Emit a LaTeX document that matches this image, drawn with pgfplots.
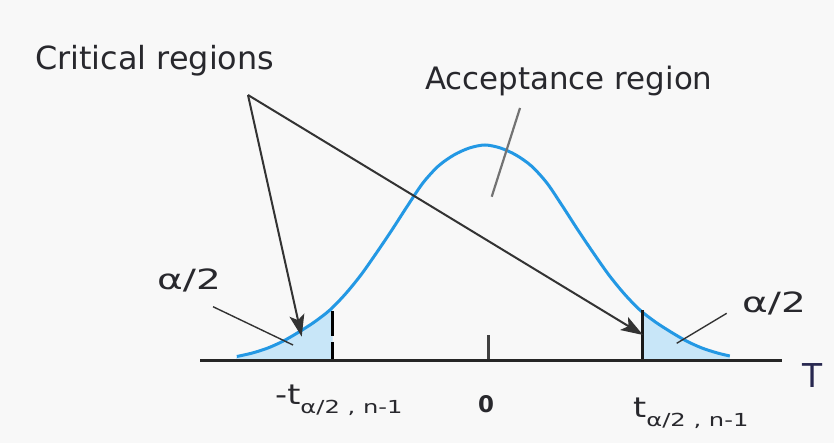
\documentclass[border=0pt]{standalone}
\usepackage{pgfplots}
\pgfplotsset{compat=1.18}
\usetikzlibrary{arrows.meta}
\usepackage{fontspec}
\setmainfont{DejaVu Sans}
\definecolor{curveblue}{RGB}{35,152,228}
\definecolor{tailfill}{RGB}{200,230,248}
\definecolor{bg}{RGB}{248,248,248}
\definecolor{txt}{RGB}{40,40,45}
\definecolor{tcol}{RGB}{40,40,80}
\begin{document}
\begin{tikzpicture}
\fill[bg] (0,0) rectangle (834bp,443bp);
\begin{axis}[scale only axis, width=834bp, height=443bp,
  xmin=-6.2968, xmax=4.4645, ymin=-82, ymax=361,
  hide axis, clip=false]
% tails
\addplot[fill=tailfill, draw=none, smooth] coordinates {(-3.24,0) (-3.24,4.5) (-3.04,8) (-2.84,13) (-2.64,20) (-2.44,29) (-2.24,39) (-2.04,51) (-2.006,53.5) (-2.006,0)} -- cycle;
\addplot[fill=tailfill, draw=none] coordinates {(1.996,0) (1.996,49) (2.16,39) (2.36,29) (2.56,20) (2.76,13) (2.96,8) (3.12,5) (3.12,0)} -- cycle;
% curve
\addplot[curveblue, line width=3bp, smooth] coordinates {(-3.24,4.5) (-3.04,8) (-2.84,13) (-2.64,20) (-2.44,29) (-2.24,39) (-2.04,51) (-1.84,67) (-1.64,86) (-1.44,108) (-1.24,131) (-1.04,155) (-0.84,178) (-0.64,195) (-0.44,206) (-0.24,213) (-0.04,216) (0.16,213) (0.36,206) (0.56,195) (0.76,178) (0.96,155) (1.16,131) (1.36,108) (1.56,86) (1.76,67) (1.96,51) (2.16,39) (2.36,29) (2.56,20) (2.76,13) (2.96,8) (3.12,5)};
% critical lines and centre tick
\addplot[black, line width=3.2bp, dash pattern=on 25bp off 6bp] coordinates {(-2.006,50) (-2.006,0)};
\addplot[black!90, line width=2.8bp] coordinates {(1.996,0) (1.996,51)};
\addplot[black!75, line width=2.5bp] coordinates {(0.004,0) (0.004,26)};
% baseline
\addplot[black!85, line width=3bp] coordinates {(-3.716,0) (3.794,0)};
% arrows
\addplot[black!80, line width=2bp, -{Stealth[length=22bp,width=15bp,inset=5bp]}] coordinates {(-3.097,266) (-2.404,24.3)};
\addplot[black!80, line width=2bp, -{Stealth[length=22bp,width=15bp,inset=5bp]}] coordinates {(-3.097,266) (2.0,26)};
% pointers
\addplot[black!55, line width=2.2bp] coordinates {(0.413,253) (0.048,164.3)};
\addplot[black!80, line width=1.4bp] coordinates {(-3.548,54.3) (-2.516,16)};
\addplot[black!80, line width=1.4bp] coordinates {(3.080,47.7) (2.435,17.7)};
% texts
\node[anchor=base west, inner sep=0, text=txt, font=\fontsize{32}{38}\selectfont] at (axis cs:-5.845,291) {Critical regions};
\node[anchor=base west, inner sep=0, text=txt, font=\fontsize{31}{37}\selectfont] at (axis cs:-0.813,271) {Acceptance region};
\node[anchor=base west, inner sep=0, text=txt, font=\fontsize{28}{32}\selectfont] at (axis cs:-4.271,71) {\scalebox{1.4}[1]{α/2}};
\node[anchor=base west, inner sep=0, text=txt, font=\fontsize{28}{32}\selectfont] at (axis cs:3.277,48) {\scalebox{1.4}[1]{α/2}};
\node[anchor=base west, inner sep=0, text=tcol, font=\fontsize{33}{38}\selectfont] at (axis cs:4.052,-27) {T};
\node[anchor=base, inner sep=0, text=txt, font=\fontsize{23}{27}\selectfont\bfseries] at (axis cs:-0.026,-52) {0};
\node[anchor=base west, inner sep=0, text=txt, font=\fontsize{28}{32}\selectfont] at (axis cs:-2.748,-44) {\scalebox{1.2}[1]{-t}\raisebox{-9bp}{\fontsize{18}{20}\selectfont\scalebox{1.35}[1]{α/2 , n-1}}};
\node[anchor=base west, inner sep=0, text=txt, font=\fontsize{28}{32}\selectfont] at (axis cs:1.871,-57) {\scalebox{1.2}[1]{t}\raisebox{-9bp}{\fontsize{18}{20}\selectfont\scalebox{1.35}[1]{α/2 , n-1}}};
\end{axis}
\end{tikzpicture}
\end{document}
